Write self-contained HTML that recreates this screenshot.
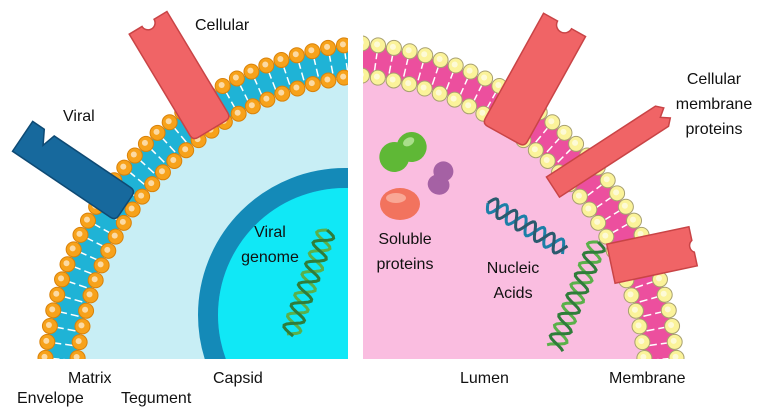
<!DOCTYPE html>
<html><head><meta charset="utf-8"><style>
html,body{margin:0;padding:0;background:#fff;width:764px;height:416px;overflow:hidden}
svg{display:block;overflow:hidden}
text{font-family:"Liberation Sans",sans-serif;font-size:16px;fill:#111}
</style></head><body>
<svg id="s" width="764" height="416" viewBox="0 0 764 416">
<defs>
<clipPath id="cl"><rect x="0" y="0" width="348" height="359"/></clipPath>
<clipPath id="cr"><rect x="363" y="0" width="401" height="359"/></clipPath>
</defs>
<g clip-path="url(#cl)" id="L">
<circle cx="392" cy="390" r="314" fill="#c8eef5"/>
<circle cx="392" cy="390" r="332" fill="none" stroke="#1fb3d6" stroke-width="30"/>
<circle cx="345" cy="315" r="137" fill="#1aa3d4" stroke="#148ab8" stroke-width="20"/>
<circle cx="345" cy="315" r="127" fill="#10e8f6"/>
</g>
<g clip-path="url(#cr)" id="R">
<circle cx="330" cy="390" r="314" fill="#fabde0"/>
<circle cx="330" cy="390" r="332" fill="none" stroke="#ec4f9e" stroke-width="30"/>
</g>
<g id="extra"></g>
<g transform="translate(180,76) rotate(-31)">
<path d="M-22,-62 L-7,-62 A7,7 0 0 0 7,-62 L22,-62 L22,56 Q22,62 16,62 L-16,62 Q-22,62 -22,56 Z" fill="#f06466" stroke="#c94446" stroke-width="1.5"/>
</g>
<g transform="translate(74,171) rotate(34)">
<path d="M-62,-18 L-48,-18 L-40,-4 L-36,-18 L56,-18 Q62,-18 62,-12 L62,12 Q62,18 56,18 L-62,18 Z" fill="#17699d" stroke="#0e4a74" stroke-width="1.5"/>
</g>
<g transform="translate(534,80) rotate(29)">
<path d="M-24,-63 L-8,-63 A8,8 0 0 0 8,-63 L24,-63 L24,57 Q24,63 18,63 L-18,63 Q-24,63 -24,57 Z" fill="#f06466" stroke="#c94446" stroke-width="1.5"/>
</g>
<g transform="translate(610,150) rotate(-33)">
<path d="M-68,-12 L62,-12 L68,-6 L60,0 L68,6 L62,12 L-68,12 Z" fill="#f06466" stroke="#c94446" stroke-width="1.5"/>
</g>
<g transform="translate(652,255) rotate(-12)">
<path d="M-42,-20 L42,-20 L42,-6 A7,7 0 0 0 42,6 L42,20 L-42,20 Z" fill="#f06466" stroke="#c94446" stroke-width="1.5"/>
</g>
<g transform="translate(403,152) rotate(-30)"><ellipse cx="-10" cy="0" rx="15" ry="15" fill="#5fb836"/><ellipse cx="10" cy="0" rx="15" ry="15" fill="#5fb836"/><ellipse cx="10" cy="-6" rx="6" ry="4" fill="#a9de8a"/></g>
<g transform="translate(441,178) rotate(-70)"><ellipse cx="-7" cy="0" rx="10" ry="11" fill="#a561a4"/><ellipse cx="7" cy="0" rx="10" ry="10" fill="#a561a4"/></g>
<g transform="translate(400,204)"><ellipse cx="0" cy="0" rx="20" ry="16" fill="#f2735e"/><ellipse cx="-4" cy="-6" rx="10" ry="5" fill="#f9a896"/></g>
<text x="195" y="30">Cellular</text>
<text x="63" y="121">Viral</text>
<text x="270" y="237" text-anchor="middle">Viral</text>
<text x="270" y="262" text-anchor="middle">genome</text>
<text x="68" y="383">Matrix</text>
<text x="17" y="403">Envelope</text>
<text x="121" y="403">Tegument</text>
<text x="213" y="383">Capsid</text>
<text x="405" y="244" text-anchor="middle">Soluble</text>
<text x="405" y="269" text-anchor="middle">proteins</text>
<text x="513" y="273" text-anchor="middle">Nucleic</text>
<text x="513" y="298" text-anchor="middle">Acids</text>
<text x="714" y="84" text-anchor="middle">Cellular</text>
<text x="714" y="109" text-anchor="middle">membrane</text>
<text x="714" y="134" text-anchor="middle">proteins</text>
<text x="460" y="383">Lumen</text>
<text x="609" y="383">Membrane</text>
</svg>
<script>
var NS="http://www.w3.org/2000/svg";
function el(p,t,a){var e=document.createElementNS(NS,t);for(var k in a)e.setAttribute(k,a[k]);p.appendChild(e);return e;}
function mem(g,cx,cy,a0,a1,fill,str){
 var n=Math.round(Math.abs(a1-a0)*348/16);
 for(var i=0;i<=n;i++){var a=a0+(a1-a0)*i/n;var c=Math.cos(a),s=Math.sin(a);
  el(g,"line",{x1:cx+c*322,y1:cy+s*322,x2:cx+c*330,y2:cy+s*330,stroke:"#fff","stroke-width":1.5});
  el(g,"line",{x1:cx+c*334,y1:cy+s*334,x2:cx+c*342,y2:cy+s*342,stroke:"#fff","stroke-width":1.5});}
 [348,316].forEach(function(r){var m=Math.round(Math.abs(a1-a0)*r/16);
  for(var i=0;i<=m;i++){var a=a0+(a1-a0)*i/m;
   el(g,"circle",{cx:cx+Math.cos(a)*r,cy:cy+Math.sin(a)*r,r:7.5,fill:fill,stroke:str,"stroke-width":1});
   el(g,"circle",{cx:cx+Math.cos(a)*r-1,cy:cy+Math.sin(a)*r-1,r:3,fill:"#fff","fill-opacity":0.6});}});
}
var L=document.getElementById("L"),R=document.getElementById("R");
var tmp=document.createElementNS(NS,"g");
mem(tmp,392,390,Math.PI,1.5*Math.PI,"#f7a21b","#d9820a");
L.insertBefore(tmp,L.children[2]);
var tr=el(R,"g",{});
mem(tr,330,390,1.5*Math.PI,2*Math.PI,"#fbf39a","#a8a070");
function dna(x0,y0,x1,y1,col,w){var g=document.getElementById("extra");var dx=x1-x0,dy=y1-y0,L=Math.hypot(dx,dy),nx=-dy/L,ny=dx/L;
 [0,Math.PI].forEach(function(ph,j){var d="";for(var i=0;i<=60;i++){var t=i/60;var o=Math.sin(t*L/22*2*Math.PI+ph)*w;d+=(i?"L":"M")+(x0+dx*t+nx*o).toFixed(1)+","+(y0+dy*t+ny*o).toFixed(1);}
 el(g,"path",{d:d,fill:"none",stroke:col[j],"stroke-width":3});});}
dna(327,230,290,335,["#5ab04a","#2f7d3a"],9);
dna(598,242,555,348,["#5ab04a","#2f7d3a"],9);
dna(488,203,565,250,["#1d7fa8","#2a5a6e"],8);
</script>
</body></html>
